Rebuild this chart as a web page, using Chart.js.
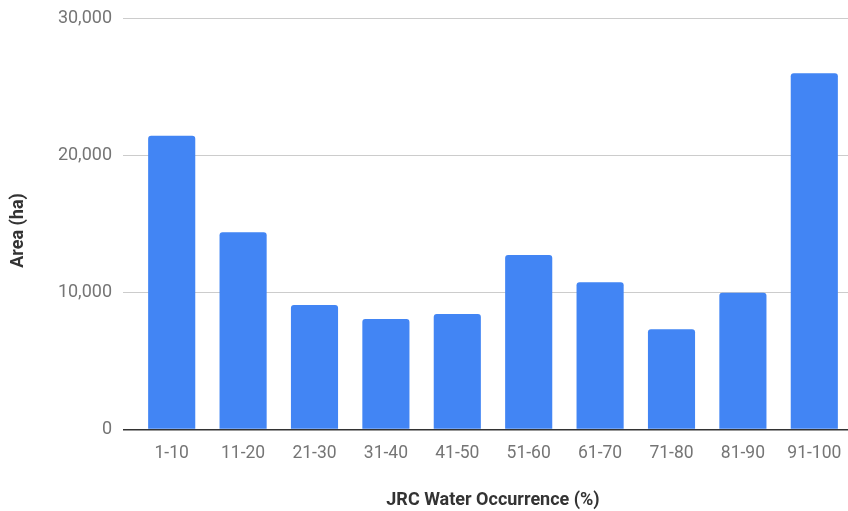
<!DOCTYPE html>
<html>
<head>
<meta charset="utf-8">
<script src="https://cdn.jsdelivr.net/npm/chart.js@4"></script>
<style>
  html, body { margin: 0; padding: 0; background: #fff; overflow: hidden; }
  #wrap { width: 848px; height: 511px; overflow: hidden; }
</style>
</head>
<body>
<div id="wrap"><canvas id="chart" width="850" height="511"></canvas></div>
<script>
// Area per JRC water occurrence class
const categories = ["1-10", "11-20", "21-30", "31-40", "41-50", "51-60", "61-70", "71-80", "81-90", "91-100"];
const areaValues = [21420, 14380, 9080, 8060, 8420, 12720, 10730, 7300, 9970, 25970];
const yTicks = [0, 10000, 20000, 30000];

const barBlue = "#4285F4";
const gridGrey = "#cccccc";
const labelGrey = "#757575";
const titleDark = "#333333";

const ctx = document.getElementById("chart").getContext("2d");

new Chart(ctx, {
    type: "bar",
    data: {
        labels: categories,
        datasets: [{
            label: "Area (ha)",
            data: areaValues,
            backgroundColor: barBlue,
            borderWidth: 0,
            borderRadius: 3,
            barPercentage: 0.66,
            categoryPercentage: 1.0
        }]
    },
    options: {
        responsive: false,
        animation: false,
        layout: { padding: { top: 18, right: 0, left: 0, bottom: 0 } },
        plugins: {
            legend: { display: false },
            tooltip: { enabled: false }
        },
        scales: {
            x: {
                grid: { display: false, drawTicks: false },
                border: { display: false },
                ticks: {
                    padding: 14,
                    color: labelGrey,
                    font: { family: "Roboto", size: 17.5 },
                    maxRotation: 0
                },
                title: {
                    display: true,
                    text: "JRC Water Occurrence (%)",
                    color: titleDark,
                    font: { family: "Roboto", size: 18, weight: "bold" },
                    padding: { top: 0, bottom: 0 }
                },
                afterFit: function(scale) {
                    scale.height = 81.5;
                    scale.paddingLeft = 0;
                    scale.paddingRight = 0;
                }
            },
            y: {
                min: 0,
                max: 30000,
                afterBuildTicks: function(scale) {
                    scale.ticks = yTicks.map(v => ({ value: v }));
                },
                grid: {
                    color: c => (c.tick && c.tick.value === 0) ? titleDark : gridGrey,
                    tickColor: c => (c.tick && c.tick.value === 0) ? titleDark : gridGrey,
                    lineWidth: c => (c.tick && c.tick.value === 0) ? 1.5 : 1,
                    tickLength: 13,
                    drawTicks: true
                },
                border: { display: false },
                ticks: {
                    padding: 11,
                    color: labelGrey,
                    font: { family: "Roboto", size: 18 },
                    callback: v => v.toLocaleString("en-US")
                },
                title: {
                    display: true,
                    // trailing spaces nudge the rotated title down a little, like the original
                    text: "Area (ha)   ",
                    color: titleDark,
                    font: { family: "Roboto", size: 18, weight: "bold" },
                    padding: { top: 8, bottom: 0 }
                },
                afterFit: function(scale) {
                    scale.width = 136;
                    scale.paddingTop = 0;
                    scale.paddingBottom = 0;
                }
            }
        }
    }
});
</script>
</body>
</html>
